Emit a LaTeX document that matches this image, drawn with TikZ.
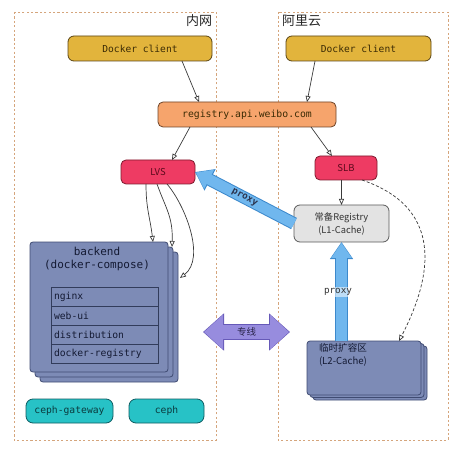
\documentclass[tikz,border=0pt]{standalone}
\usepackage{fontspec}
\setmonofont{DejaVu Sans Mono}
\newfontfamily\cjk{Noto Sans CJK SC}
\usetikzlibrary{arrows.meta,calc}
\definecolor{dockfill}{HTML}{E2B43C}
\definecolor{dockdraw}{HTML}{5A4515}
\definecolor{docktext}{HTML}{3B2B05}
\definecolor{regfill}{HTML}{F6A46C}
\definecolor{regdraw}{HTML}{6E4428}
\definecolor{lvsfill}{HTML}{EE3B63}
\definecolor{lvsdraw}{HTML}{7D1A2E}
\definecolor{lvstext}{HTML}{5C0A1C}
\definecolor{lonefill}{HTML}{E3E3E3}
\definecolor{lonedraw}{HTML}{5A5A5A}
\definecolor{bkfill}{HTML}{7D8BB6}
\definecolor{bkdraw}{HTML}{3F4B72}
\definecolor{bktext}{HTML}{141A33}
\definecolor{cephfill}{HTML}{27C2C6}
\definecolor{cephdraw}{HTML}{0F5C61}
\definecolor{cephtext}{HTML}{0B3A3E}
\definecolor{bluefill}{HTML}{70B7EE}
\definecolor{bluedraw}{HTML}{3C89CC}
\definecolor{purfill}{HTML}{978CDE}
\definecolor{purdraw}{HTML}{6659B8}
\definecolor{regioncol}{HTML}{D5A57C}
\definecolor{linecol}{HTML}{3A3A3A}
\begin{document}
\begin{tikzpicture}[x=1pt,y=-1pt,
  basebox/.style={draw, line width=0.8pt, inner sep=0pt, outer sep=0pt},
  dockbox/.style={basebox, rounded corners=6pt, fill=dockfill, draw=dockdraw, text=docktext,
    minimum width=144pt, minimum height=25pt, font=\ttfamily\fontsize{9.6}{11}\selectfont},
  regbox/.style={basebox, rounded corners=5pt, fill=regfill, draw=regdraw, text=docktext,
    minimum width=178pt, minimum height=25pt, font=\ttfamily\fontsize{9.8}{11}\selectfont},
  lvsbox/.style={basebox, rounded corners=5pt, fill=lvsfill, draw=lvsdraw, text=lvstext,
    minimum height=24pt, font=\cjk\fontsize{9.5}{11}\selectfont},
  lonebox/.style={basebox, rounded corners=6pt, fill=lonefill, draw=lonedraw, text=black!80,
    minimum width=95pt, minimum height=37pt, align=center, font=\cjk\fontsize{9.3}{13}\selectfont},
  stackbox/.style={basebox, rounded corners=3pt, fill=bkfill, draw=bkdraw},
  rowbox/.style={draw=bkdraw!80!black, line width=0.8pt, inner sep=0pt, outer sep=0pt,
    minimum width=107pt, minimum height=19pt, text width=101pt, align=left, text=bktext,
    font=\ttfamily\fontsize{9.7}{11}\selectfont},
  cephbox/.style={basebox, rounded corners=7pt, fill=cephfill, draw=cephdraw, text=cephtext,
    minimum height=24pt, font=\ttfamily\fontsize{9.7}{11}\selectfont},
  region/.style={draw=regioncol, line width=0.8pt, dash pattern=on 2.2pt off 2.2pt},
  conn/.style={draw=linecol, line width=0.7pt, -{Triangle[open, length=6pt, width=5pt]}},
  dconn/.style={conn, dash pattern=on 3pt off 2pt},
  lbl/.style={inner sep=0pt, outer sep=0pt}
]
\useasboundingbox (0,0) rectangle (471,449);

% regions
\draw[region] (14,12) rectangle (216,440);
\draw[region] (278,12) rectangle (448,440);
\node[lbl, anchor=east, font=\cjk\fontsize{13}{15}\selectfont, text=black!85] (inner) at (212,21) {内网};
\node[lbl, anchor=west, font=\cjk\fontsize{13}{15}\selectfont, text=black!85] (ali) at (282,21) {阿里云};

% top nodes
\node[dockbox] (dcl) at (140,48.5) {Docker client};
\node[dockbox, minimum width=145pt] (dcr) at (358.5,48.5) {Docker client};
\node[regbox] (reg) at (247,114.5) {registry.api.weibo.com};
\node[lvsbox, minimum width=74pt] (lvs) at (158,172) {LVS};
\node[lvsbox, minimum width=62pt] (slb) at (346,168) {SLB};
\node[lonebox] (l1) at (341.5,223.5) {常备Registry\\(L1-Cache)};

% backend stack
\node[stackbox, minimum width=138pt, minimum height=130pt] (bk2) at (109,317) {};
\node[stackbox, minimum width=138pt, minimum height=130pt] (bk1) at (104,312) {};
\node[stackbox, minimum width=138pt, minimum height=130pt] (bk) at (99,307) {};
\node[lbl, align=center, text=bktext, font=\ttfamily\fontsize{11}{13}\selectfont] (bkt) at (97,258.5) {backend\\(docker-compose)};
\node[rowbox] (r1) at (104.5,296.5) {nginx};
\node[rowbox] (r2) at (104.5,315.5) {web-ui};
\node[rowbox] (r3) at (104.5,334.5) {distribution};
\node[rowbox] (r4) at (104.5,353.5) {docker-registry};

% ceph
\node[cephbox, minimum width=87pt] (cg) at (69.5,411) {ceph-gateway};
\node[cephbox, minimum width=75pt] (ceph) at (166.5,411) {ceph};

% L2 stack
\node[stackbox, minimum width=114pt, minimum height=54pt] (l2b) at (370,373) {};
\node[stackbox, minimum width=114pt, minimum height=54pt] (l2a) at (367,370.5) {};
\node[stackbox, minimum width=114pt, minimum height=54pt] (l2) at (364,368) {};
\node[lbl, anchor=north west, align=left, text=bktext, font=\cjk\fontsize{9.6}{13}\selectfont] (l2t) at (319,343) {临时扩容区\\(L2-Cache)};

% thin connectors
\draw[conn] ($(dcl.south)+(42,0)$) -- ($(reg.north)+(-48,0)$);
\draw[conn] ($(dcr.south)+(-43.5,0)$) -- ($(reg.north)+(60,0)$);
\draw[conn] ($(reg.south)+(-57,0)$) -- ($(lvs.north)+(14,0)$);
\draw[conn] ($(reg.south)+(64,0)$) -- ($(slb.north)+(-14,0)$);
\draw[conn] (slb.south -| l1.north) -- (l1.north);
\draw[conn] ($(lvs.south)+(-12,0)$) .. controls +(0,25) and +(-3,-25) .. ($(bk.north)+(54,0)$);
\draw[conn] ($(lvs.south)+(-1,0)$) .. controls +(9,25) and +(1,-30) .. ($(bk1.north east)+(-1,0)$);
\draw[conn] ($(lvs.south)+(9,0)$) .. controls +(18,21) and +(26,-20) .. ($(bk2.east)+(2,-39)$);
\draw[dconn] ($(slb.south)+(16,0)$) .. controls +(88,30) and +(29,-56) .. ($(l2.north)+(35,0)$);

% fat arrows
\draw[draw=bluedraw, line width=12.6pt, -{Triangle[width=23pt,length=17pt]}] (l1.west) -- (lvs.east);
\draw[draw=bluefill, line width=10.6pt, -{Triangle[width=20.5pt,length=15pt]}, shorten >=0.9pt] (l1.west) -- (lvs.east);
\node[lbl, rotate=-28.4, text=bkdraw!70!black, font=\ttfamily\bfseries\fontsize{9.3}{11}\selectfont] (px1) at ($(l1.west)!0.5!(lvs.east)$) {proxy};

\draw[draw=bluedraw, line width=13pt, -{Triangle[width=22pt,length=17pt]}] (l2.north -| l1.south) -- (l1.south);
\draw[draw=bluefill, line width=11pt, -{Triangle[width=19.5pt,length=15pt]}, shorten >=0.9pt] (l2.north -| l1.south) -- (l1.south);
\node[lbl, fill=white, fill opacity=0.55, text opacity=1, inner sep=1pt, text=black!80, font=\ttfamily\fontsize{9.3}{11}\selectfont] (px2) at (338,292) {proxy};

\coordinate (zl) at (203,332);
\coordinate (zr) at (290,332);
\draw[draw=purdraw, line width=15.5pt, {Triangle[width=36pt,length=21pt]}-{Triangle[width=36pt,length=21pt]}] (zl) -- (zr);
\draw[draw=purfill, line width=13.5pt, {Triangle[width=33.5pt,length=19pt]}-{Triangle[width=33.5pt,length=19pt]}, shorten >=1pt, shorten <=1pt] (zl) -- (zr);
\node[lbl, text=purdraw!40!black, font=\cjk\fontsize{9.5}{11}\selectfont] (zx) at ($(zl)!0.5!(zr)$) {专线};
\end{tikzpicture}
\end{document}
